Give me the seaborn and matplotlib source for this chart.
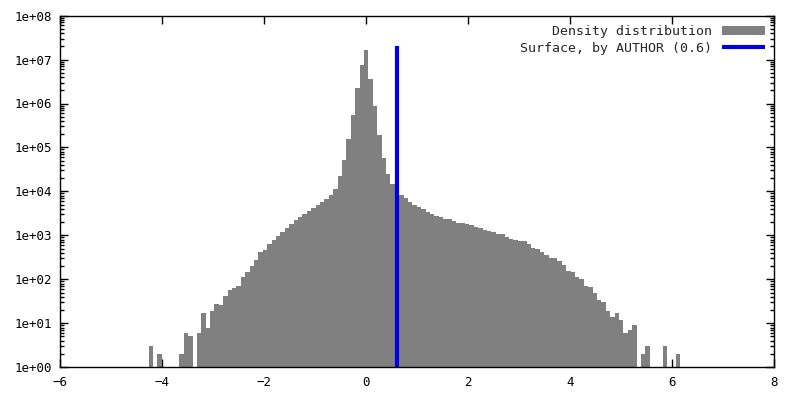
import numpy as np
import pandas as pd
import matplotlib
matplotlib.use("Agg")
import matplotlib.pyplot as plt
import seaborn as sns
from matplotlib.ticker import LogLocator, NullFormatter, FixedLocator

# histogram: 121 equal bins between these edges, counts
x_lo, x_hi = -4.27, 6.16
counts = [
    3, 0, 2, 0, 0, 0, 0, 2, 6, 5,
    0, 6, 17, 8, 19, 27, 26, 42, 57, 63,
    70, 112, 150, 200, 275, 415, 470, 645, 775, 980,
    1200, 1480, 1820, 2240, 2630, 3090, 3630, 4170, 4790, 5750,
    6760, 8300, 11500, 21900, 52500, 155000, 550000, 2290000, 7590000, 16600000,
    3630000, 871000, 190000, 57500, 25100, 14800, 10700, 8300, 7080, 5750,
    4900, 4470, 3980, 3470, 3090, 2750, 2630, 2340, 2340, 2140,
    1910, 1910, 1820, 1740, 1550, 1480, 1320, 1260, 1200, 1070,
    1070, 912, 832, 794, 741, 741, 645, 513, 490, 417,
    355, 309, 309, 263, 214, 155, 148, 112, 102, 71,
    68, 50, 33, 30, 19, 14, 17, 12, 6, 7,
    9, 0, 2, 3, 0, 0, 0, 3, 0, 0,
    2,
]
surface_x = 0.6
surface_top = 2.0e7
hist_label = "Density distribution"
line_label = "Surface, by AUTHOR (0.6)"

edges = np.linspace(x_lo, x_hi, len(counts) + 1)
df = pd.DataFrame({"center": (edges[:-1] + edges[1:]) / 2,
                   "count": np.array(counts, dtype=float)})

sns.set_style("ticks")
plt.rcParams["font.family"] = ["DejaVu Sans Mono"]

fig = plt.figure(figsize=(8, 4), dpi=100)
ax = fig.add_axes([0.0754, 0.082, 0.8925, 0.879])

sns.histplot(data=df, x="center", weights="count", bins=list(edges), ax=ax,
             color="#808080", alpha=1, linewidth=0)
ax.set_yscale("log")
line, = ax.plot([surface_x, surface_x], [1, surface_top], color="#0000e0",
                lw=3, solid_capstyle="butt")

ax.set_xlim(-6, 8)
ax.set_ylim(1, 1e8)
ax.set_xticks(np.arange(-6, 9, 2))
ax.yaxis.set_major_locator(FixedLocator([10.0 ** k for k in range(9)]))
ax.set_yticklabels(["1e+%02d" % k for k in range(9)])
ax.yaxis.set_minor_locator(LogLocator(base=10, subs=np.arange(2, 10), numticks=20))
ax.yaxis.set_minor_formatter(NullFormatter())
ax.set_xlabel("")
ax.set_ylabel("")

ax.tick_params(which="both", direction="in", top=True, right=True,
               labelsize=9, colors="black", width=1)
ax.tick_params(which="major", length=6, pad=6)
ax.tick_params(which="minor", length=3)
for s in ax.spines.values():
    s.set_linewidth(1)
    s.set_color("black")

bars = ax.patches[0]
leg = ax.legend([bars, line], [hist_label, line_label], loc="upper right",
                frameon=False, markerfirst=False, fontsize=9.5,
                handlelength=3.3, handleheight=0.7, handletextpad=0.7,
                borderaxespad=0.3, labelspacing=0.3)
for t in leg.get_texts():
    t.set_ha("right")

fig.savefig("out.png", dpi=100)
